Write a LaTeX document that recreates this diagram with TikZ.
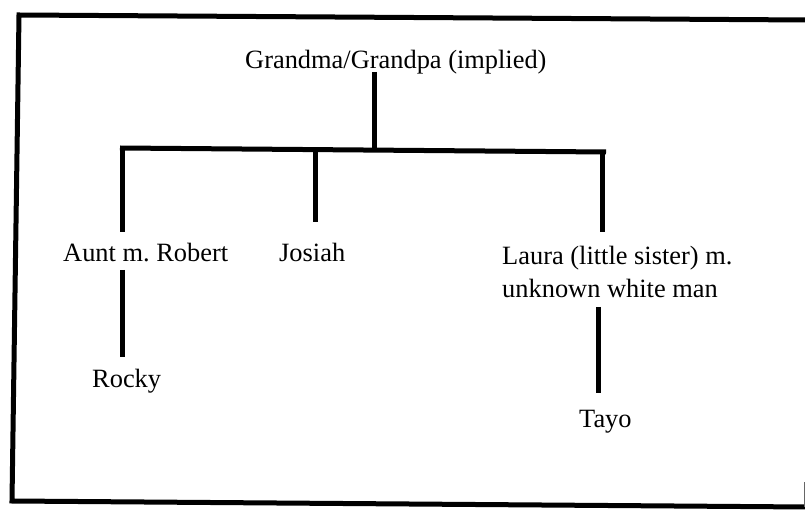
\documentclass[tikz,border=0pt]{standalone}
\usepackage{fontspec}
\setmainfont{Liberation Serif}
\frenchspacing
\begin{document}
\begin{tikzpicture}[x=1pt,y=-1pt,
  lbl/.style={anchor=base west,inner sep=0pt,font=\fontsize{26.4}{33}\selectfont},
  link/.style={line width=5pt},
  frame/.style={line width=5pt}]
\useasboundingbox[fill=white] (0,0) rectangle (805,510);
% frame
\draw[frame] (807,20) -- (19,15) -- (12,501) -- (807,507);
\draw[line width=1pt,black!60] (804,482) -- (804,507);
% names
\node[lbl] (gp) at (245,69) {Grandma/Grandpa (implied)};
\node[lbl] (aunt) at (63,262) {Aunt m. Robert};
\node[lbl] (josiah) at (279,262) {Josiah};
\node[lbl] (laura) at (502,265) {Laura (little sister) m.};
\node[lbl] (laurab) at (502,298) {unknown white man};
\node[lbl] (rocky) at (92,387) {Rocky};
\node[lbl] (tayo) at (579,427) {Tayo};
% junctions
\coordinate (gpdown) at (374,72);
\coordinate (mid) at (374,149);
\coordinate (barL) at (120,148);
\coordinate (barR) at (606,152);
\coordinate (auntup) at (122,232);
\coordinate (josiahup) at (315,222);
\coordinate (lauraup) at (602,232);
\coordinate (auntdown) at (122,270);
\coordinate (rockyup) at (122,357);
\coordinate (lauradown) at (598,307);
\coordinate (tayoup) at (598,393);
% connectors
\draw[link] (gpdown) -- (mid);
\draw[link] (barL) -- (barR);
\draw[link] (122,148) -- (auntup);
\draw[link] (315,150) -- (josiahup);
\draw[link] (602,152) -- (lauraup);
\draw[link] (auntdown) -- (rockyup);
\draw[link] (lauradown) -- (tayoup);
\end{tikzpicture}
\end{document}
